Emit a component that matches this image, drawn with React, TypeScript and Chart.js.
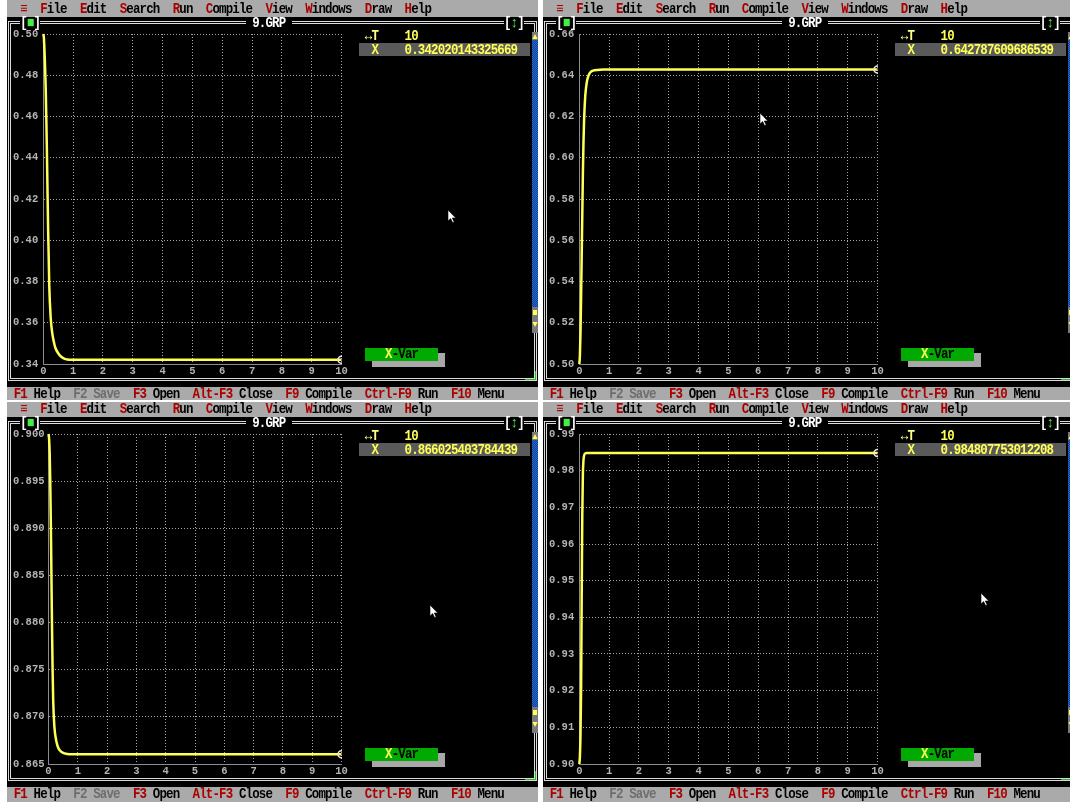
import React, { useEffect, useRef } from "react";
import { Chart, registerables } from "chart.js";
Chart.register(...registerables);

// ---------- data ----------
const T = [0, 0.02, 0.04, 0.06, 0.08, 0.1, 0.12, 0.14, 0.16, 0.2, 0.25, 0.3, 0.35, 0.4, 0.5, 0.6, 0.7, 0.8, 1, 2, 3, 4, 5, 6, 7, 8, 9, 10];

const xTopLeft = [0.5, 0.498, 0.492, 0.484, 0.474, 0.46, 0.444, 0.425, 0.407, 0.378, 0.362, 0.355, 0.351, 0.348, 0.3452, 0.3435, 0.3426, 0.3422, 0.34205, 0.34202, 0.34202, 0.34202, 0.34202, 0.34202, 0.34202, 0.34202, 0.34202, 0.34202];
const xTopRight = [0.5, 0.504, 0.515, 0.532, 0.552, 0.572, 0.592, 0.607, 0.618, 0.63, 0.6365, 0.6395, 0.641, 0.6418, 0.6424, 0.6426, 0.64272, 0.64277, 0.642786, 0.642788, 0.642788, 0.642788, 0.642788, 0.642788, 0.642788, 0.642788, 0.642788, 0.642788];
const xBottomLeft = [0.9, 0.8995, 0.898, 0.895, 0.8905, 0.885, 0.8795, 0.875, 0.8718, 0.869, 0.8677, 0.867, 0.8666, 0.8664, 0.86618, 0.86608, 0.86604, 0.86603, 0.866026, 0.866025, 0.866025, 0.866025, 0.866025, 0.866025, 0.866025, 0.866025, 0.866025, 0.866025];
const xBottomRight = [0.9, 0.902, 0.908, 0.92, 0.945, 0.968, 0.979, 0.9828, 0.9841, 0.9847, 0.98479, 0.984805, 0.984807, 0.984808, 0.984808, 0.984808, 0.984808, 0.984808, 0.984808, 0.984808, 0.984808, 0.984808, 0.984808, 0.984808, 0.984808, 0.984808, 0.984808, 0.984808];

const xTicks = [0, 1, 2, 3, 4, 5, 6, 7, 8, 9, 10];
const yTicksTopLeft = [0.34, 0.36, 0.38, 0.4, 0.42, 0.44, 0.46, 0.48, 0.5];
const yTicksTopRight = [0.5, 0.52, 0.54, 0.56, 0.58, 0.6, 0.62, 0.64, 0.66];
const yTicksBottomLeft = [0.865, 0.87, 0.875, 0.88, 0.885, 0.89, 0.895, 0.9];
const yTicksBottomRight = [0.9, 0.91, 0.92, 0.93, 0.94, 0.95, 0.96, 0.97, 0.98, 0.99];

const finalTopLeft = "0.342020143325669";
const finalTopRight = "0.642787609686539";
const finalBottomLeft = "0.866025403784439";
const finalBottomRight = "0.984807753012208";
const finalT = "10";

const menuItems = [
  { col: 5, text: "File" },
  { col: 11, text: "Edit" },
  { col: 17, text: "Search" },
  { col: 25, text: "Run" },
  { col: 30, text: "Compile" },
  { col: 39, text: "View" },
  { col: 45, text: "Windows" },
  { col: 54, text: "Draw" },
  { col: 60, text: "Help" },
];
const statusItems = [
  { col: 1, key: "F1", label: "Help", off: false },
  { col: 10, key: "F2", label: "Save", off: true },
  { col: 19, key: "F3", label: "Open", off: false },
  { col: 28, key: "Alt-F3", label: "Close", off: false },
  { col: 42, key: "F9", label: "Compile", off: false },
  { col: 54, key: "Ctrl-F9", label: "Run", off: false },
  { col: 67, key: "F10", label: "Menu", off: false },
];

// ---------- style constants ----------
const MONO = "'Liberation Mono','DejaVu Sans Mono',monospace";
const K = 530 / 640;
const GREY = "#AAAAAA";
const RED = "#AA0000";
const YEL = "#FFFF55";
const FRAME = "#DADADA";
const GRID = "#A8A8A8";
const AXIS = "#8C8C8C";
const TICK = "#B4B4B4";

function Plot({ ys, yTicks, dec, axisW }: { ys: number[]; yTicks: number[]; dec: number; axisW: number }) {
  const ref = useRef<HTMLCanvasElement>(null);
  useEffect(() => {
    const canvas = ref.current;
    if (!canvas) return;
    const tickFont = { family: MONO, size: 10.5, weight: "bold" as const };
    const chart = new Chart(canvas, {
      type: "line",
      data: {
        datasets: [
          {
            data: T.map((t, i) => ({ x: t, y: ys[i] })),
            borderColor: YEL,
            borderWidth: 2.5,
            cubicInterpolationMode: "monotone",
            pointRadius: (c: any) => (c.dataIndex === T.length - 1 ? 3.5 : 0),
            pointBorderColor: "#E6E6E6",
            pointBackgroundColor: "rgba(0,0,0,0)",
            pointBorderWidth: 1.5,
            clip: { left: 2, top: 2, right: 0.5, bottom: 2 },
            fill: false,
          } as any,
        ],
      },
      options: {
        animation: false,
        responsive: false,
        events: [],
        layout: { padding: { left: 0, right: 9.5, top: 10, bottom: 0 } },
        plugins: { legend: { display: false }, tooltip: { enabled: false } },
        scales: {
          x: {
            type: "linear",
            min: 0,
            max: 10,
            afterBuildTicks: (a: any) => {
              a.ticks = xTicks.map((v) => ({ value: v }));
            },
            afterFit: (a: any) => {
              a.height = 16;
            },
            grid: { color: GRID, drawTicks: false, lineWidth: 1 },
            border: { color: AXIS, width: 1, dash: [1, 2] },
            ticks: {
              color: TICK,
              font: tickFont,
              padding: 1,
              maxRotation: 0,
              autoSkip: false,
              callback: (v: any) => String(v),
            },
          },
          y: {
            type: "linear",
            min: yTicks[0],
            max: yTicks[yTicks.length - 1],
            afterBuildTicks: (a: any) => {
              a.ticks = yTicks.map((v) => ({ value: v }));
            },
            afterFit: (a: any) => {
              a.width = axisW;
            },
            grid: { color: GRID, drawTicks: false, lineWidth: 1 },
            border: { color: AXIS, width: 1, dash: [1, 2] },
            ticks: {
              color: TICK,
              font: tickFont,
              padding: 0,
              crossAlign: "far",
              autoSkip: false,
              callback: (v: any) => Number(v).toFixed(dec),
            },
          },
        },
      } as any,
    });
    return () => chart.destroy();
  }, []);
  return (
    <canvas
      ref={ref}
      width={338}
      height={356}
      style={{ position: "absolute", left: 6, top: 24, width: 338, height: 356 }}
    />
  );
}

function Txt({ x, cy, color, children }: { x: number; cy: number; color: string; children: React.ReactNode }) {
  return (
    <span
      style={{
        position: "absolute",
        left: x,
        top: cy - 7,
        lineHeight: "16px",
        height: 16,
        color,
        whiteSpace: "pre",
      }}
    >
      {children}
    </span>
  );
}

function Cursor({ x, y }: { x: number; y: number }) {
  return (
    <svg width={10} height={14} style={{ position: "absolute", left: x, top: y, overflow: "visible" }}>
      <polygon points="0,0 0,11 2.6,8.6 4.6,12.6 6.2,11.9 4.3,8 7.8,8" fill="#FFFFFF" stroke="#000" strokeWidth={0.6} />
    </svg>
  );
}

type PaneProps = {
  left: number;
  top: number;
  isTop: boolean;
  ys: number[];
  yTicks: number[];
  dec: number;
  axisW: number;
  value: string;
  cursor: [number, number];
};

function Pane(p: PaneProps) {
  const menuTop = p.isTop ? 0 : 2;
  const c = (col: number) => col * 8;
  const px = (v: number) => v / K;
  const cw = 530 / 80;
  return (
    <div style={{ position: "absolute", left: p.left, top: p.top, width: 531, height: 402, background: "#FFFFFF", overflow: "hidden" }}>
      <div style={{ position: "absolute", left: 0, top: menuTop, width: 531, height: 17 - menuTop, background: GREY }} />
      <div style={{ position: "absolute", left: 0, top: 17, width: 531, height: 370, background: "#000" }} />
      <div style={{ position: "absolute", left: 0, top: 386.5, width: 531, height: 15.5, background: GREY }} />
      <div
        style={{
          position: "absolute",
          left: 1,
          top: 21,
          width: 529,
          height: 360,
          border: `3px double ${FRAME}`,
          boxSizing: "border-box",
        }}
      />
      {/* title gaps in the frame */}
      <div style={{ position: "absolute", left: 2 * cw, top: 18, width: 3 * cw, height: 10, background: "#000" }} />
      <div style={{ position: "absolute", left: 36 * cw, top: 18, width: 7 * cw, height: 10, background: "#000" }} />
      <div style={{ position: "absolute", left: 75 * cw, top: 18, width: 3 * cw, height: 10, background: "#000" }} />
      <Plot ys={p.ys} yTicks={p.yTicks} dec={p.dec} axisW={p.axisW} />
      {/* X value row */}
      <div style={{ position: "absolute", left: 352, top: 43, width: 171, height: 13, background: "#5A5A5A" }} />
      {/* X-Var button */}
      <div style={{ position: "absolute", left: 365, top: 353, width: 73, height: 13.5, background: "#A8A8A8" }} />
      <div style={{ position: "absolute", left: 358, top: 347.5, width: 73, height: 13.5, background: "#00AA00" }} />
      {/* scrollbar */}
      <div style={{ position: "absolute", left: 524.5, top: 31.5, width: 6, height: 8.5, background: "#7A7A7A" }}>
        <svg width={6} height={8.5} style={{ position: "absolute", left: 0, top: 0 }}>
          <polygon points="3,2 5.6,7 0.4,7" fill={YEL} />
        </svg>
      </div>
      <div
        style={{
          position: "absolute",
          left: 524.5,
          top: 40,
          width: 6,
          height: 267,
          backgroundColor: "#1450B0",
          backgroundImage: "repeating-conic-gradient(#0C3E9C 0% 25%, #2A6ACC 0% 50%)",
          backgroundSize: "2px 2px",
        }}
      />
      <div style={{ position: "absolute", left: 524.5, top: 307, width: 6, height: 11.5, background: "#7A7A7A" }}>
        <div style={{ position: "absolute", left: 1, top: 3, width: 4, height: 5, background: YEL }} />
      </div>
      <div style={{ position: "absolute", left: 524.5, top: 318.5, width: 6, height: 14.5, background: "#7A7A7A" }}>
        <svg width={6} height={14.5} style={{ position: "absolute", left: 0, top: 0 }}>
          <polygon points="0.4,3 5.6,3 3,8" fill={YEL} />
        </svg>
      </div>
      {/* resize corner */}
      <div style={{ position: "absolute", left: 518, top: 378.5, width: 11, height: 1.6, background: "#18C018" }} />
      <div style={{ position: "absolute", left: 527.5, top: 371, width: 1.6, height: 9, background: "#18C018" }} />

      {/* text layer in 80-column DOS space */}
      <div
        style={{
          position: "absolute",
          left: 0,
          top: 0,
          width: 640,
          height: 402,
          transform: `scaleX(${K})`,
          transformOrigin: "0 0",
          fontFamily: MONO,
          fontWeight: "bold",
          fontSize: 15,
          letterSpacing: "-1px",
        }}
      >
        <Txt x={c(2)} cy={9} color={RED}>≡</Txt>
        {menuItems.map((m) => (
          <Txt key={m.text} x={c(m.col)} cy={9} color="#000">
            <span style={{ color: RED }}>{m.text[0]}</span>
            {m.text.slice(1)}
          </Txt>
        ))}
        {statusItems.map((s) => (
          <Txt key={s.key} x={c(s.col)} cy={393.5} color={s.off ? "#6E6E6E" : "#000"}>
            <span style={{ color: s.off ? "#6E6E6E" : RED }}>{s.key}</span>
            {" " + s.label}
          </Txt>
        ))}
        <Txt x={c(2)} cy={22.5} color="#FFFFFF">
          [<span style={{ color: "#44EE44" }}>■</span>]
        </Txt>
        <Txt x={c(37)} cy={22.5} color="#FFFFFF">
          9.GRP
        </Txt>
        <Txt x={c(75)} cy={22.5} color="#FFFFFF">
          [<span style={{ color: "#44EE44" }}>↕</span>]
        </Txt>
        <Txt x={c(54)} cy={36} color="#FFFF80">↔T</Txt>
        <Txt x={c(60)} cy={36} color={YEL}>{finalT}</Txt>
        <Txt x={c(55)} cy={49.5} color={YEL}>X</Txt>
        <Txt x={c(60)} cy={49.5} color={YEL}>{p.value}</Txt>
        <Txt x={px(378)} cy={354} color="#000">
          <span style={{ color: YEL }}>X</span>-Var
        </Txt>
      </div>
      <Cursor x={p.cursor[0]} y={p.cursor[1]} />
    </div>
  );
}

export default function App() {
  useEffect(() => {
    document.body.style.margin = "0";
  }, []);
  return (
    <div style={{ position: "absolute", left: 0, top: 0, width: 1070, height: 802, background: "#FFFFFF", overflow: "hidden" }}>
      <Pane left={7} top={0} isTop={true} ys={xTopLeft} yTicks={yTicksTopLeft} dec={2} axisW={30.3} value={finalTopLeft} cursor={[441, 210]} />
      <Pane left={543} top={0} isTop={true} ys={xTopRight} yTicks={yTicksTopRight} dec={2} axisW={30.3} value={finalTopRight} cursor={[217, 113]} />
      <Pane left={7} top={400} isTop={false} ys={xBottomLeft} yTicks={yTicksBottomLeft} dec={3} axisW={35.5} value={finalBottomLeft} cursor={[423, 205]} />
      <Pane left={543} top={400} isTop={false} ys={xBottomRight} yTicks={yTicksBottomRight} dec={2} axisW={30.3} value={finalBottomRight} cursor={[438, 193]} />
    </div>
  );
}
